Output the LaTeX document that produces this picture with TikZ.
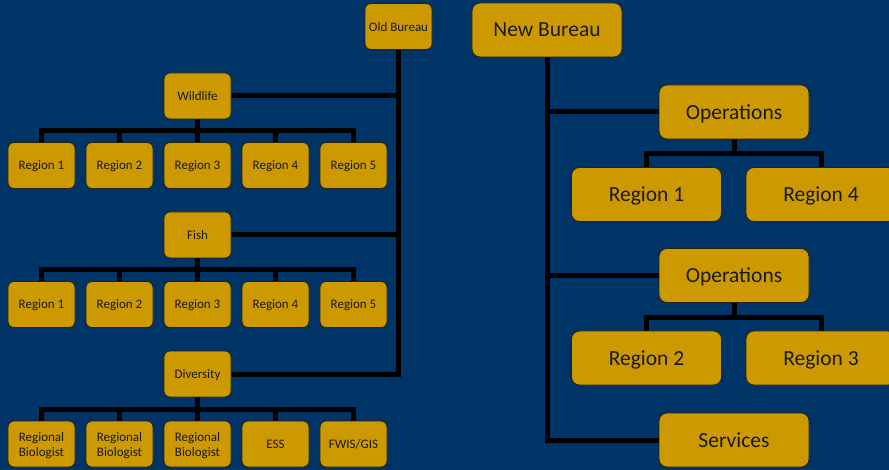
\documentclass[tikz,border=0pt]{standalone}
\usepackage{fontspec}
\setmainfont{Carlito}
\pgfdeclarelayer{bg}
\pgfdeclarelayer{conn}
\pgfsetlayers{bg,conn,main}
\definecolor{navy}{RGB}{0,51,102}
\definecolor{gold}{RGB}{204,153,0}
\definecolor{ink}{RGB}{26,26,26}
\definecolor{edge}{RGB}{40,35,10}
\tikzset{
  sbox/.style={draw=edge, line width=0.8pt, fill=gold, rounded corners=6pt, text=ink,
    minimum width=67pt, minimum height=46pt, inner sep=1pt, align=center, text depth=0pt,
    font=\fontsize{13}{15}\selectfont},
  bbox/.style={draw=edge, line width=0.8pt, fill=gold, rounded corners=8pt, text=ink,
    minimum width=150pt, minimum height=54pt, inner sep=1pt, align=center, text depth=0pt,
    font=\fontsize{21.5}{25}\selectfont},
  conn/.style={draw=black, line width=5pt, line join=miter}
}
\begin{document}
\begin{tikzpicture}[x=1pt,y=-1pt]
\useasboundingbox (0,0) rectangle (889,470);
\begin{pgfonlayer}{bg}
\fill[navy] (0,0) rectangle (889,470);
\end{pgfonlayer}
\clip (0,0) rectangle (889,470);
% left tree
\node[sbox] (old) at (398.5,26.5) {Old Bureau};
\node[sbox] (wild) at (197.5,96) {Wildlife};
\node[sbox] (fish) at (197.5,235) {Fish};
\node[sbox] (div) at (197.5,374) {Diversity};
\foreach \i/\x in {1/41.5,2/119.5,3/197.5,4/275.5,5/353.5}{
  \node[sbox] (wa\i) at (\x,165.5) {Region \i};
  \node[sbox] (fa\i) at (\x,304.5) {Region \i};
}
\node[sbox] (da1) at (41.5,444) {Regional\\Biologist};
\node[sbox] (da2) at (119.5,444) {Regional\\Biologist};
\node[sbox] (da3) at (197.5,444) {Regional\\Biologist};
\node[sbox] (da4) at (275.5,444) {ESS};
\node[sbox] (da5) at (353.5,444) {FWIS/GIS};
\coordinate (trunkL) at (398.5,374);
\coordinate (busw) at (0,131);
\coordinate (busf) at (0,270);
\coordinate (busd) at (0,409);
% right tree
\node[bbox] (nb) at (547,30) {New Bureau};
\node[bbox] (ops1) at (734,112) {Operations};
\node[bbox] (ra1) at (646.5,194.5) {Region 1};
\node[bbox] (ra4) at (821,194.5) {Region 4};
\node[bbox] (ops2) at (734,275.5) {Operations};
\node[bbox] (rb2) at (646.5,358) {Region 2};
\node[bbox] (rb3) at (821,358) {Region 3};
\node[bbox] (serv) at (734,440) {Services};
\coordinate (trunkR) at (547,440);
\coordinate (bus1) at (0,154);
\coordinate (bus2) at (0,318);
\begin{pgfonlayer}{conn}
% left trunk
\draw[conn] (old.south) -- (trunkL) -- (div.east);
\draw[conn] (wild.east) -- (wild.east -| old.south);
\draw[conn] (fish.east) -- (fish.east -| old.south);
% left buses
\foreach \p/\c/\b in {wild/wa/busw,fish/fa/busf,div/da/busd}{
  \draw[conn] (\c1.north) -- (\c1.north |- \b) -- (\c5.north |- \b) -- (\c5.north);
  \draw[conn] (\p.south) -- (\p.south |- \b);
  \draw[conn] (\c2.north) -- (\c2.north |- \b);
  \draw[conn] (\c3.north) -- (\c3.north |- \b);
  \draw[conn] (\c4.north) -- (\c4.north |- \b);
}
% right trunk
\draw[conn] (nb.south) -- (trunkR) -- (serv.west);
\draw[conn] (ops1.west) -- (ops1.west -| nb.south);
\draw[conn] (ops2.west) -- (ops2.west -| nb.south);
\draw[conn] (ra1.north) -- (ra1.north |- bus1) -- (ra4.north |- bus1) -- (ra4.north);
\draw[conn] (ops1.south) -- (ops1.south |- bus1);
\draw[conn] (rb2.north) -- (rb2.north |- bus2) -- (rb3.north |- bus2) -- (rb3.north);
\draw[conn] (ops2.south) -- (ops2.south |- bus2);
\end{pgfonlayer}
\end{tikzpicture}
\end{document}
